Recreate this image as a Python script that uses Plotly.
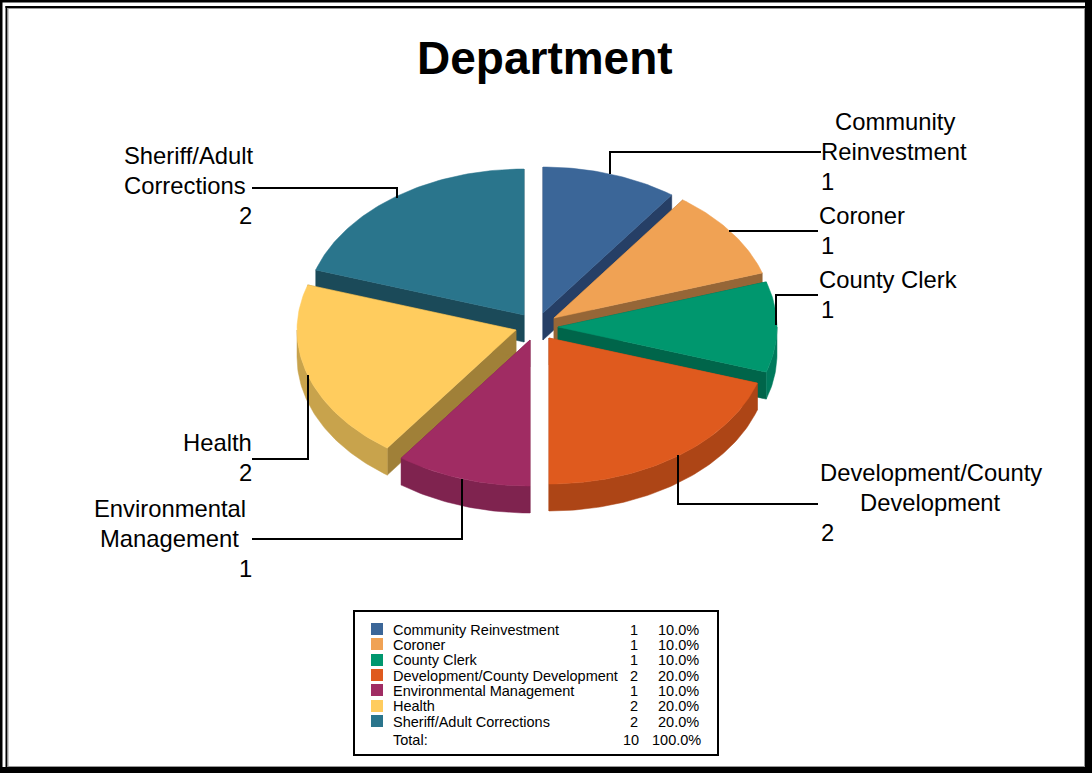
import math
import plotly.graph_objects as go

departments = ["Community Reinvestment", "Coroner", "County Clerk", "Development/County Development",
               "Environmental Management", "Health", "Sheriff/Adult Corrections"]
counts = [1, 1, 1, 2, 1, 2, 2]
top_colors = ["#3B6698", "#F0A254", "#00976E", "#DF5A1E", "#A02C63", "#FFCC5E", "#2A758C"]
cut_colors = ["#263F66", "#966637", "#00654A", "#AD4516", "#7A2049", "#A08038", "#1B4A59"]
rim_colors = ["#263F66", "#C08244", "#007A5C", "#AD4516", "#7F234F", "#C8A34C", "#1B4A59"]
apex_x = [543, 554, 558, 549, 530, 516, 524]
apex_y = [313, 318, 327, 338, 340, 330, 315]
paint_order = [6, 0, 1, 2, 5, 4, 3]

RX, RY, DEPTH = 219, 146, 27
W, H = 1092, 773
FONT = "Liberation Sans"
total = sum(counts)

fig = go.Figure()


def px_point(i, deg, drop=0):
    a = math.radians(deg)
    return apex_x[i] + RX * math.sin(a), apex_y[i] - RY * math.cos(a) + drop


def add_poly(pts, color):
    fig.add_trace(go.Scatter(x=[p[0] for p in pts] + [pts[0][0]], y=[p[1] for p in pts] + [pts[0][1]],
                             mode="lines", fill="toself", fillcolor=color,
                             line=dict(color=color, width=0.5), hoverinfo="skip", showlegend=False))


starts = []
acc = 0
for c in counts:
    starts.append(acc)
    acc += c * 360 / total

for i in paint_order:
    a0 = starts[i]
    a1 = a0 + counts[i] * 360 / total
    apex = (apex_x[i], apex_y[i])
    apex_low = (apex_x[i], apex_y[i] + DEPTH)
    # radial cut faces
    for deg in (a0, a1):
        add_poly([apex, px_point(i, deg), px_point(i, deg, DEPTH), apex_low], cut_colors[i])
    # outer rim on the front half
    lo, hi = max(a0, 90), min(a1, 270)
    if hi > lo:
        n = int(hi - lo) + 1
        degs = [lo + (hi - lo) * k / n for k in range(n + 1)]
        add_poly([px_point(i, d) for d in degs] + [px_point(i, d, DEPTH) for d in reversed(degs)], rim_colors[i])
    # top
    n = int(a1 - a0) + 1
    add_poly([apex] + [px_point(i, a0 + (a1 - a0) * k / n) for k in range(n + 1)], top_colors[i])

shapes = []


def rect(x0, y0, x1, y1, fill=None, line=None, lw=0):
    shapes.append(dict(type="rect", xref="x", yref="y", x0=x0, y0=y0, x1=x1, y1=y1,
                       fillcolor=fill or "rgba(0,0,0,0)", line=dict(color=line or "rgba(0,0,0,0)", width=lw),
                       layer="above"))


def seg(points):
    d = "M" + " L".join(f"{x},{y}" for x, y in points)
    shapes.append(dict(type="path", xref="x", yref="y", path=d, line=dict(color="#000", width=2), layer="above"))


# frame
rect(0, 0, W, 2.5, "#000")
rect(0, 0, 2.5, H, "#000")
rect(W - 7, 0, W, H, "#000")
rect(0, H - 6, W, H, "#000")
rect(5.5, 6, W - 7, 8, "#000")
rect(5.5, 6, 7.5, H - 6, "#000")
rect(7.5, 8, W - 7, 9, "#999")
rect(7.5, 8, 8.5, H - 6, "#999")
rect(8, H - 7, W - 7, H - 6, "#999")
rect(W - 8, 8, W - 7, H - 6, "#999")

# leaders
seg([(610, 174), (610, 152), (821, 152)])
seg([(729, 231), (818, 231)])
seg([(776, 325), (776, 295), (818, 295)])
seg([(678, 455), (678, 504), (818, 504)])
seg([(462, 479), (462, 539), (252, 539)])
seg([(308, 375), (308, 459), (252, 459)])
seg([(397, 198), (397, 188), (252, 188)])

ann = []


def text(x, y, s, size, anchor="left", bold=False):
    ann.append(dict(x=x, y=y, xref="x", yref="y", text=f"<b>{s}</b>" if bold else s, showarrow=False,
                    xanchor=anchor, yanchor="middle", align=anchor, borderpad=0,
                    font=dict(family=FONT, size=size, color="#000")))


text(545, 58, "Department", 46, "center", True)

LS = 23.8
labels = [
    [(895, 121, "Community", "center"), (894, 151, "Reinvestment", "center"), (827, 181, str(counts[0]), "center")],
    [(818, 215, "Coroner", "left"), (827, 245, str(counts[1]), "center")],
    [(818, 279, "County Clerk", "left"), (827, 309, str(counts[2]), "center")],
    [(931, 472, "Development/County", "center"), (930, 502, "Development", "center"), (827, 532, str(counts[3]), "center")],
    [(170, 508, "Environmental", "center"), (169, 538, "Management", "center"), (245, 568, str(counts[4]), "center")],
    [(217, 442, "Health", "center"), (245, 472, str(counts[5]), "center")],
    [(189, 155, "Sheriff/Adult", "center"), (185, 185, "Corrections", "center"), (245, 215, str(counts[6]), "center")],
]
for group in labels:
    for x, y, s, a in group:
        text(x, y, s, LS, a)

# legend box
rect(354, 611, 718, 755, "#fff", "#000", 2)
row_y = [630, 645, 660, 676, 691, 706, 722]
swatch_y = [629, 644, 660, 675, 690, 706, 721]
LEG = 14.5
NUM = 14.5
for i, d in enumerate(departments):
    rect(371, swatch_y[i] - 6, 383, swatch_y[i] + 6, top_colors[i])
    text(392, row_y[i], d, LEG)
    text(639, row_y[i], str(counts[i]), NUM, "right")
    text(700, row_y[i], f"{counts[i] * 100 / total:.1f}%", NUM, "right")
text(392, 740, "Total:", LEG)
text(640, 740, str(total), NUM, "right")
text(702, 740, f"{100:.1f}%", NUM, "right")

fig.update_layout(width=W, height=H, margin=dict(l=0, r=0, t=0, b=0), paper_bgcolor="#fff", plot_bgcolor="#fff",
                  showlegend=False, shapes=shapes, annotations=ann,
                  xaxis=dict(range=[0, W], visible=False, fixedrange=True),
                  yaxis=dict(range=[H, 0], visible=False, fixedrange=True))
fig.write_html("out.html", config=dict(displayModeBar=False),
               post_script="document.body.style.margin='0';document.body.style.overflow='hidden';")
